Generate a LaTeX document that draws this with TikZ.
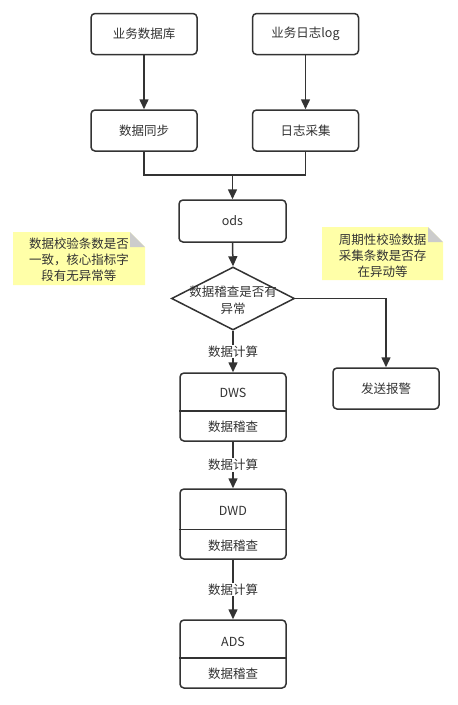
\documentclass[tikz,border=0pt]{standalone}
\usepackage{fontspec}
\setmainfont{Noto Sans CJK SC}
\usetikzlibrary{shapes.geometric,arrows.meta}
\definecolor{ln}{HTML}{333333}
\definecolor{notefill}{HTML}{FFFFA8}
\definecolor{foldc}{HTML}{CCCCCC}
\tikzset{
  box/.style={draw=ln, line width=1.5pt, rounded corners=4pt, fill=white, inner sep=0pt, minimum width=106pt, minimum height=41pt, text=ln, font=\fontsize{12.5}{15}\selectfont},
  tbox/.style={draw=ln, line width=1.5pt, rounded corners=4pt, fill=white, inner sep=0pt, minimum width=106pt, minimum height=68pt},
  lbl/.style={text=ln, font=\fontsize{12.5}{15}\selectfont, inner sep=1pt},
  elabel/.style={fill=white, text=ln, font=\fontsize{12.5}{15}\selectfont, inner sep=1pt},
  arr/.style={draw=ln, line width=1.5pt, -{Triangle[length=10pt,width=9pt]}},
  conn/.style={draw=ln, line width=1.5pt},
  notetext/.style={text=ln, font=\fontsize{12.5}{16}\selectfont, align=center, inner sep=0pt}
}
\begin{document}
\begin{tikzpicture}[x=1pt,y=-1pt]
\useasboundingbox (0,0) rectangle (458,705);
\fill[white] (0,0) rectangle (458,705);

% notes
\fill[notefill] (13,232) -- (130,232) -- (145,247) -- (145,285) -- (13,285) -- cycle;
\fill[foldc] (130,232) -- (145,247) -- (130,247) -- cycle;
\node[notetext] (n1) at (79,260) {数据校验条数是否\\一致，核心指标字\\段有无异常等};

\fill[notefill] (322,227) -- (428,227) -- (443,242) -- (443,280) -- (322,280) -- cycle;
\fill[foldc] (428,227) -- (443,242) -- (428,242) -- cycle;
\node[notetext] (n2) at (382.5,256) {周期性校验数据\\采集条数是否存\\在异动等};

% top boxes
\node[box] (db) at (144,34) {业务数据库};
\node[box] (log) at (305.5,34) {业务日志log};
\node[box] (sync) at (144,130.5) {数据同步};
\node[box] (coll) at (305.5,130.5) {日志采集};
\node[box, minimum width=107pt, minimum height=42pt] (ods) at (232.5,221) {ods};

% diamond
\node[diamond, draw=ln, line width=1.5pt, fill=white, minimum width=123pt, minimum height=63pt, inner sep=0pt] (chk) at (233,298.5) {};
\node[notetext, font=\fontsize{12.5}{17}\selectfont] (chkt) at (233,300) {数据稽查是否有\\异常};

% alarm
\node[box] (alarm) at (386,388.5) {发送报警};

% layered boxes
\node[tbox] (dws) at (233,407) {};
\draw[conn] (dws.west |- 0,411) -- (dws.east |- 0,411);
\node[lbl] (dwst) at (233,392.5) {DWS};
\node[lbl] (dwsc) at (233,426.5) {数据稽查};

\node[tbox, minimum height=70pt] (dwd) at (233,524) {};
\draw[conn] (dwd.west |- 0,529.5) -- (dwd.east |- 0,529.5);
\node[lbl] (dwdt) at (233,510.5) {DWD};
\node[lbl] (dwdc) at (233,546) {数据稽查};

\node[tbox] (ads) at (233,654) {};
\draw[conn] (ads.west |- 0,658) -- (ads.east |- 0,658);
\node[lbl] (adst) at (233,641.5) {ADS};
\node[lbl] (adsc) at (233,674) {数据稽查};

% connectors
\draw[arr] (db) -- (sync);
\draw[arr] (log) -- (coll);
\coordinate (merge) at (232.5,175);
\draw[conn] (sync.south) |- (merge) -| (coll.south);
\draw[arr] (merge) -- (ods.north);
\draw[arr] (ods.south) -- (chk.north);
\draw[arr] (chk.east) -| (alarm.north);
\draw[arr] (chk.south) -- node[elabel] {数据计算} (dws.north);
\draw[arr] (dws.south) -- node[elabel] {数据计算} (dwd.north);
\draw[arr] (dwd.south) -- node[elabel] {数据计算} (ads.north);
\end{tikzpicture}
\end{document}
